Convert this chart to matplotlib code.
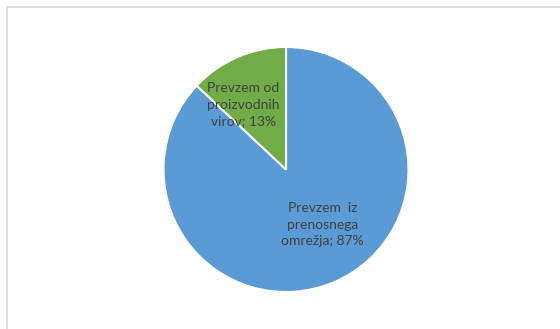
import matplotlib
matplotlib.use("Agg")
import matplotlib.pyplot as plt
from matplotlib.patches import Rectangle

# data
categories = ["Prevzem  iz\nprenosnega\nomrežja", "Prevzem od\nproizvodnih\nvirov"]
shares = [87, 13]
colors = ["#5B9BD5", "#70AD47"]
# label positions inside the pie (axes data units, radius = 1)
label_pos = [(0.30, -0.45), (-0.35, 0.53)]

plt.rcParams['font.family'] = ['Lato', 'DejaVu Sans']

fig = plt.figure(figsize=(5.6, 3.29), dpi=100)
W, H = 560, 329

# chart border
fig.patches.append(Rectangle((6.5 / W, -0.1), 1.2, 1 - 7 / H + 0.1,
                             transform=fig.transFigure, fill=False,
                             edgecolor="#D9D9D9", linewidth=1.2))

cx, cy, r = 286, 329 - 169.5, 122.5
ax = fig.add_axes([(cx - r) / W, (cy - r) / H, 2 * r / W, 2 * r / H])

wedges, texts = ax.pie(shares, colors=colors, startangle=90, counterclock=False,
                       labels=[f"{c}; {s}%" for c, s in zip(categories, shares)],
                       labeldistance=0.6,
                       wedgeprops=dict(edgecolor="white", linewidth=1.5),
                       textprops=dict(color="#404040", fontsize=10,
                                      ha="center", va="center",
                                      linespacing=1.45))
for t, p in zip(texts, label_pos):
    t.set_position(p)
    t.set_horizontalalignment("center")
    t.set_verticalalignment("center")

ax.set_xlim(-1, 1)
ax.set_ylim(-1, 1)
ax.set_aspect("equal")
ax.axis("off")

fig.savefig("out.png", dpi=100)
